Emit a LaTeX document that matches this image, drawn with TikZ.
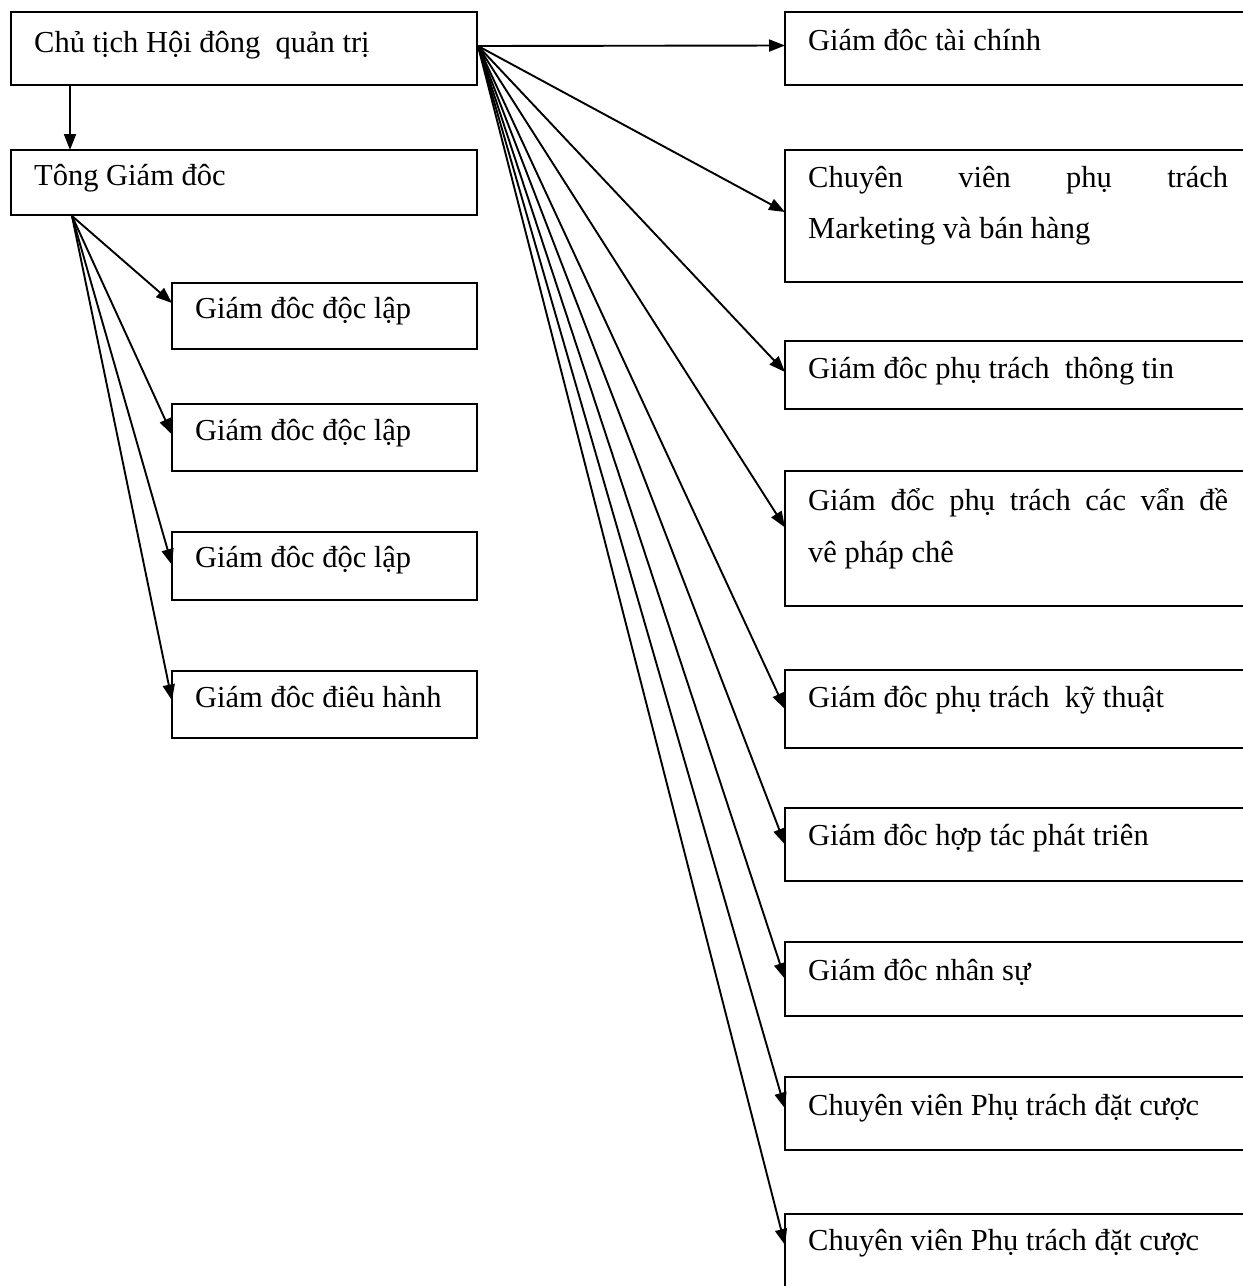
\documentclass[tikz,border=0pt]{standalone}
\usepackage{fontspec}
\setmainfont{Liberation Serif}
\usetikzlibrary{arrows.meta,calc}
\tikzset{
  box/.style={draw, line width=2.2pt, anchor=north west, inner sep=0pt, outer sep=0pt},
  lbl/.style={anchor=base west, inner sep=0pt, font=\fontsize{30.5}{51}\selectfont},
  arr/.style={-{Triangle[length=16pt,width=12pt]}, line width=1.9pt},
}
% name, x, y, w, h
\newcommand\orgbox[5]{%
  \node[box, minimum width=#4pt, minimum height=#5pt] (#1) at (#2,#3) {};}
% name, x, y (box top-left), text
\newcommand\orglabel[4]{%
  \node[lbl] (#1) at (#2+23,#3+38) {#4};}
\begin{document}
\begin{tikzpicture}[x=1pt,y=-1pt]
\useasboundingbox (0,0) rectangle (1243,1286);
% left column
\orgbox{ch}{11}{12}{466}{73}
\orglabel{ch-t}{11}{14}{Chủ tịch Hội đông\ \ quản trị}
\orgbox{tg}{11}{150}{466}{65}
\orglabel{tg-t}{11}{147}{Tông Giám đôc}
\orgbox{lb1}{172}{283}{305}{66}
\orglabel{lb1-t}{172}{280}{Giám đôc độc\ lập}
\orgbox{lb2}{172}{404}{305}{67}
\orglabel{lb2-t}{172}{402}{Giám đôc độc\ lập}
\orgbox{lb3}{172}{532}{305}{68}
\orglabel{lb3-t}{172}{529}{Giám đôc độc\ lập}
\orgbox{lb4}{172}{671}{305}{67}
\orglabel{lb4-t}{172}{669}{Giám đôc điêu hành}
% right column
\orgbox{rb1}{785}{12}{480}{73}
\orglabel{rb1-t}{785}{12}{Giám đôc tài chính}
\orgbox{rb2}{785}{150}{480}{132}
\orglabel{rb2-t1}{785}{149}{\hbox to 420pt{Chuyên\hfill viên\hfill phụ\hfill trách}}
\orglabel{rb2-t2}{785}{200}{Marketing và bán hàng}
\orgbox{rb3}{785}{341}{480}{68}
\orglabel{rb3-t}{785}{340}{Giám đôc phụ trách\ \ thông tin}
\orgbox{rb4}{785}{471}{480}{135}
\orglabel{rb4-t1}{785}{472}{\hbox to 420pt{Giám\hfill đổc\hfill phụ\hfill trách\hfill các\hfill vẩn\hfill đề}}
\orglabel{rb4-t2}{785}{524}{vê pháp chê}
\orgbox{rb5}{785}{670}{480}{78}
\orglabel{rb5-t}{785}{669}{Giám đôc phụ trách\ \ kỹ thuật}
\orgbox{rb6}{785}{808}{480}{73}
\orglabel{rb6-t}{785}{807}{Giám đôc hợp tác phát triên}
\orgbox{rb7}{785}{942}{480}{74}
\orglabel{rb7-t}{785}{942}{Giám đôc nhân\ sự}
\orgbox{rb8}{785}{1077}{480}{73}
\orglabel{rb8-t}{785}{1077}{Chuyên viên Phụ trách đặt cược}
\orgbox{rb9}{785}{1214}{480}{120}
\orglabel{rb9-t}{785}{1212}{Chuyên viên Phụ trách đặt cược}
% connectors
\draw[arr] ($(ch.south west)+(59,0)$) -- ($(tg.north west)+(59,0)$);
\coordinate (cs) at (478,46);
\coordinate (ts) at (72,216);
\draw[arr] (cs) -- ([yshift=3pt]rb1.west);
\draw[arr] (cs) -- ([yshift=4pt]rb2.west);
\draw[arr] (cs) -- ([yshift=3pt]rb3.west);
\draw[arr] (cs) -- ([yshift=11pt]rb4.west);
\draw[arr] (cs) -- (rb5.west);
\draw[arr] (cs) -- (rb6.west);
\draw[arr] (cs) -- (rb7.west);
\draw[arr] (cs) -- ([yshift=5pt]rb8.west);
\draw[arr] (cs) -- ([yshift=29pt]rb9.west);
\draw[arr] (ts) -- ([yshift=13pt]lb1.west);
\draw[arr] (ts) -- ([yshift=3pt]lb2.west);
\draw[arr] (ts) -- ([yshift=1pt]lb3.west);
\draw[arr] (ts) -- ([yshift=4pt]lb4.west);
\end{tikzpicture}
\end{document}
